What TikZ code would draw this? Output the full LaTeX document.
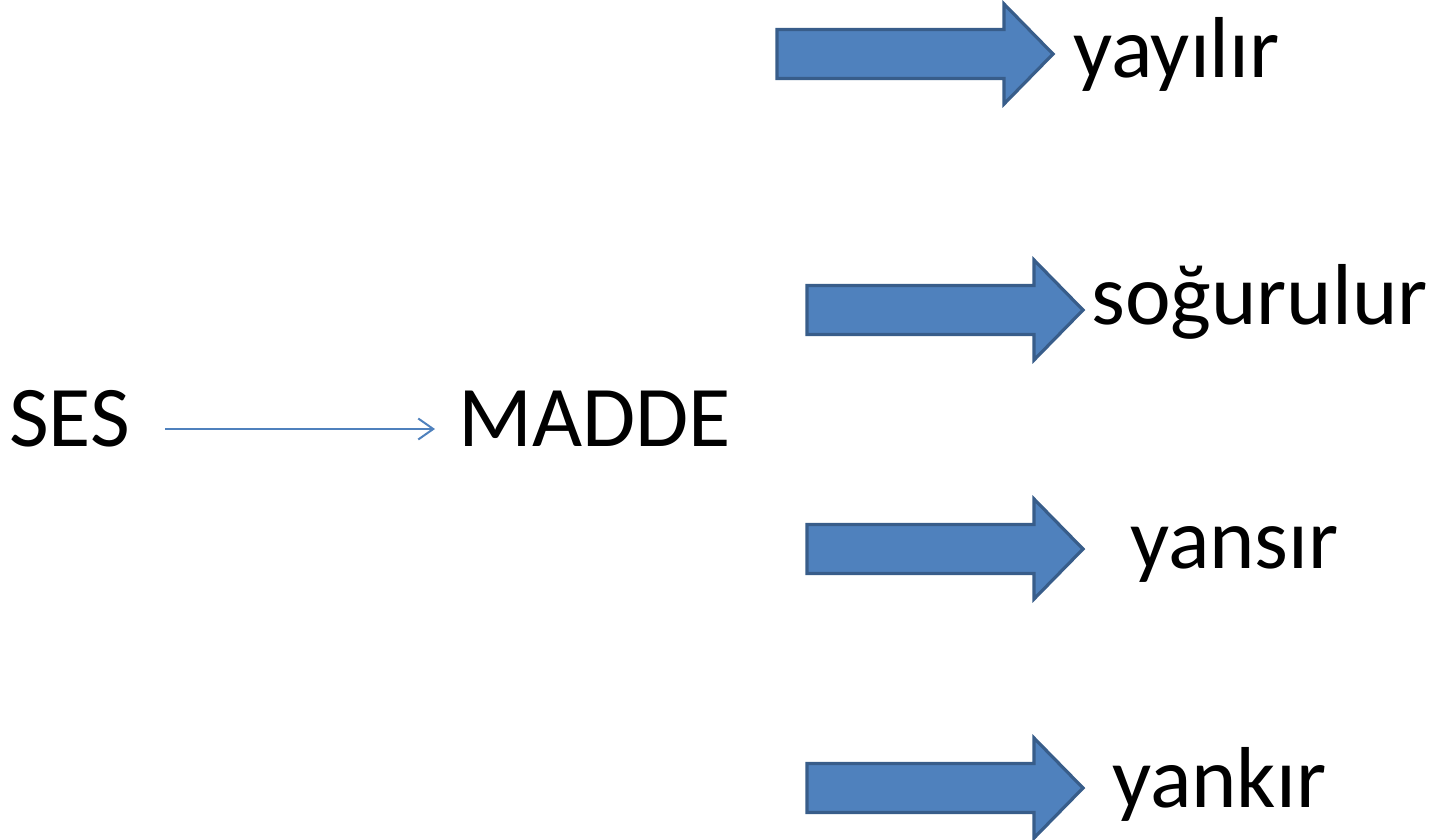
\documentclass[tikz,border=0pt]{standalone}
\usepackage{fontspec}
\setmainfont{Carlito}
\usetikzlibrary{arrows.meta}
\definecolor{arrowfill}{HTML}{4F81BD}
\definecolor{arrowline}{HTML}{385D8A}
\begin{document}
\begin{tikzpicture}[x=1pt,y=-1pt,
  word/.style={inner sep=0pt,anchor=base west,font=\fontsize{86.5}{100}\selectfont},
  thinarrow/.style={draw=arrowfill,line width=2pt,-{Straight Barb[length=15pt,width=21pt]}},
  blockarrow/.pic={
    \draw[fill=arrowfill,draw=arrowline,line width=3.2pt,line join=miter]
      (0,-24.5) -- (227,-24.5) -- (227,-50) -- (276,0) -- (227,50)
      -- (227,24.5) -- (0,24.5) -- cycle;
  }]
  \useasboundingbox (0,0) rectangle (1431,839);

  % source and medium
  \node[word] (ses) at (9,446) {SES};
  \node[word] (madde) at (458,446) {MADDE};
  \coordinate (sesout) at (165,429);
  \coordinate (maddein) at (435,429);
  \draw[thinarrow] (sesout) -- (maddein);

  % block arrows
  \pic at (777,54) {blockarrow};
  \pic at (807,310) {blockarrow};
  \pic at (807,549) {blockarrow};
  \pic at (807,788) {blockarrow};

  % outcomes
  \node[word] (yay) at (1073,77) {yayılır};
  \node[word] (sog) at (1091,324) {soğurulur};
  \node[word] (yans) at (1130,568) {yansır};
  \node[word] (yank) at (1112,807) {yankır};
\end{tikzpicture}
\end{document}
